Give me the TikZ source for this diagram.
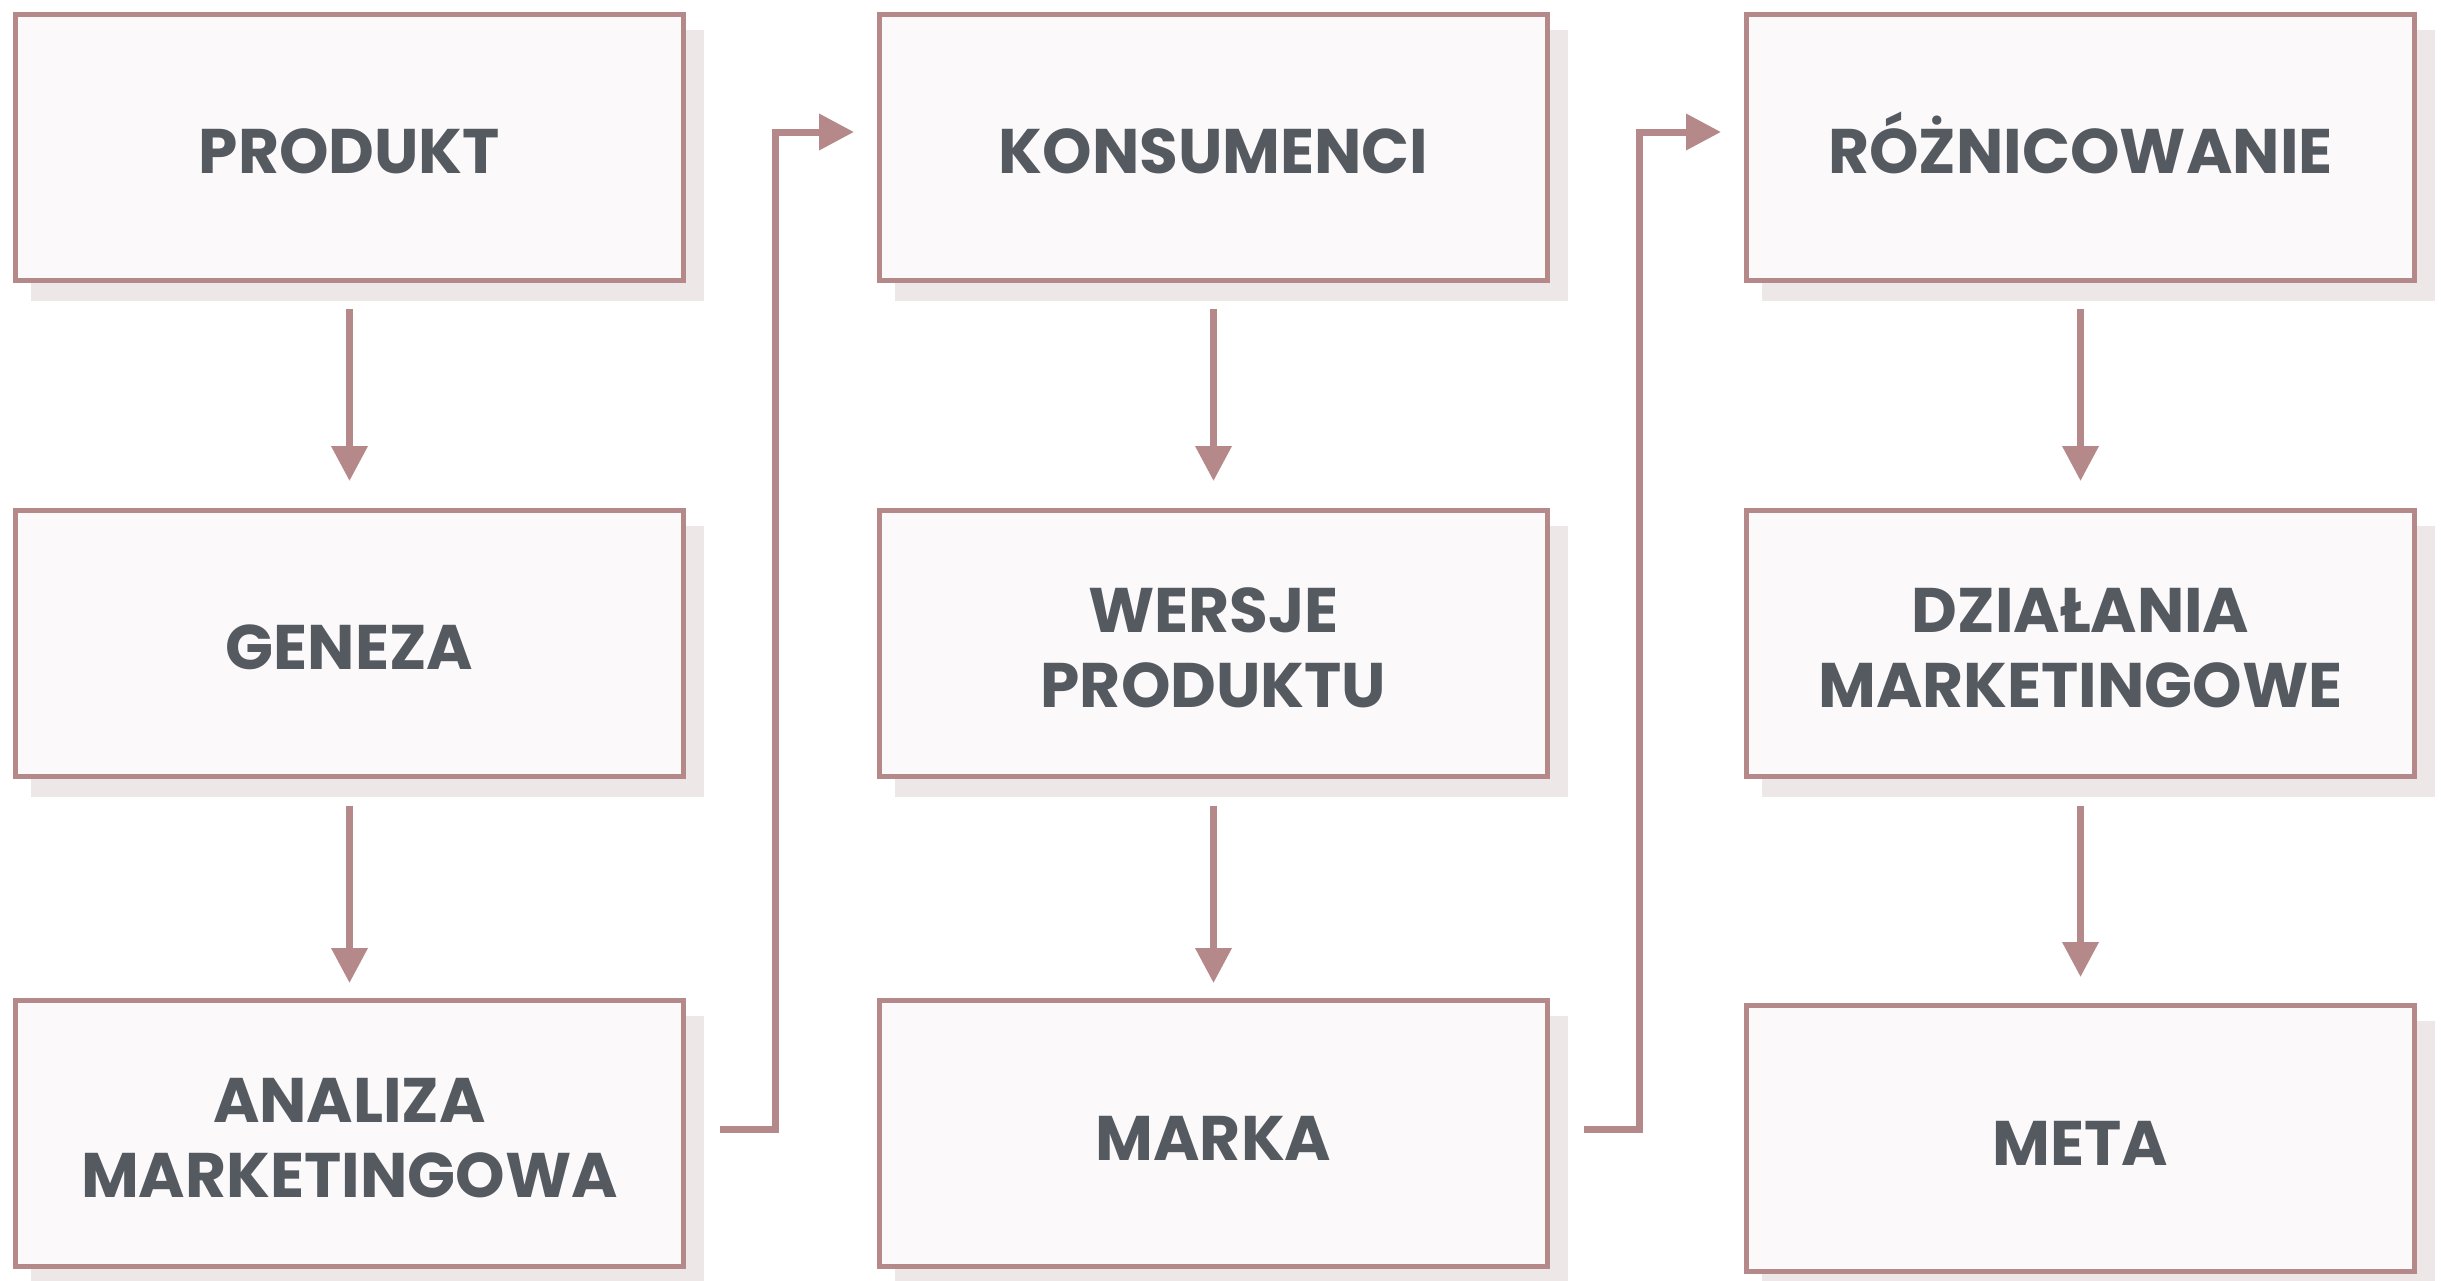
\documentclass[tikz,border=0pt]{standalone}
\usepackage{fontspec}
\setmainfont{Poppins}
\usetikzlibrary{arrows.meta,calc}
\definecolor{bord}{HTML}{B58989}
\definecolor{boxfill}{HTML}{FBF9FA}
\definecolor{shad}{HTML}{EEE7E7}
\definecolor{txt}{HTML}{545A60}
\newcommand\fl{\rule{0pt}{53pt}}
\tikzset{
  box/.style={draw=bord, line width=5pt, fill=boxfill, minimum width=668pt, minimum height=266pt,
    inner sep=0pt, align=center, text=txt, font=\fontsize{63}{75}\selectfont\bfseries},
  shadowbox/.style={fill=shad, draw=none, minimum width=673pt, minimum height=271pt, inner sep=0pt},
  conn/.style={draw=bord, line width=7pt, -{Triangle[width=35pt,length=35pt]}},
}
\begin{document}
\begin{tikzpicture}[x=1pt,y=-1pt]
\useasboundingbox (0,0) rectangle (2441,1280);
% shadows
\foreach \cx/\cy in {349.5/147, 349.5/643.5, 349.5/1133.5, 1213.5/147, 1213.5/643.5, 1213.5/1133.5, 2080.5/147, 2080.5/643.5, 2080.5/1138.5}{
  \node[shadowbox] at (\cx+18,\cy+18) {};
}
\node[box] (a1) at (349.5,147) {\fl PRODUKT};
\node[box] (a2) at (349.5,643.5) {\fl GENEZA};
\node[box] (a3) at (349.5,1133.5) {\fl ANALIZA\\MARKETINGOWA};
\node[box] (b1) at (1213.5,147) {\fl KONSUMENCI};
\node[box] (b2) at (1213.5,643.5) {\fl WERSJE\\PRODUKTU};
\node[box] (b3) at (1213.5,1133.5) {\fl MARKA};
\node[box] (c1) at (2080.5,147) {\fl\smash{RÓŻNICOWANIE}};
\node[box] (c2) at (2080.5,643.5) {\fl DZIAŁANIA\\MARKETINGOWE};
\node[box] (c3) at (2080.5,1138.5) {\fl META};
% vertical arrows
\foreach \u/\v/\e in {a1/a2/27, a2/a3/15, b1/b2/27, b2/b3/15, c1/c2/27, c2/c3/26}{
  \draw[conn, shorten <=26.5pt, shorten >=\e pt] (\u.south) -- (\v.north);
}
% elbow connectors
\coordinate (s1) at ([xshift=34pt,yshift=4pt]a3.east);
\coordinate (e1) at ([xshift=-23pt,yshift=15pt]b1.west);
\coordinate (s2) at ([xshift=34pt,yshift=4pt]b3.east);
\coordinate (e2) at ([xshift=-23pt,yshift=15pt]c1.west);
\draw[conn] (s1) -- ++(55,0) |- (e1);
\draw[conn] (s2) -- ++(55,0) |- (e2);
\end{tikzpicture}
\end{document}
